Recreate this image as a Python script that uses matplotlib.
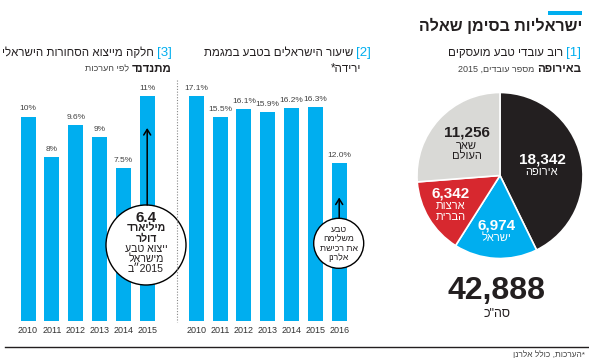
import re
import matplotlib
matplotlib.use('Agg')
import matplotlib.pyplot as plt
from matplotlib.patches import Ellipse, FancyArrowPatch
from matplotlib.lines import Line2D
import numpy as np

plt.rcParams['font.family'] = ['Liberation Sans Narrow', 'Liberation Sans', 'DejaVu Sans']

# data
pie_labels = [['אירופה'], ['ישראל'], ['ארצות', 'הברית'], ['שאר', 'העולם']]
pie_values = [18342, 6974, 6342, 11256]
pie_total = 42888
pie_colors = ['#231f20', '#00aeef', '#d7282f', '#d9d9d6']
pie_text_colors = ['white', 'white', 'white', '#231f20']

years_share = ['2010', '2011', '2012', '2013', '2014', '2015']
export_share = [10, 8, 9.6, 9, 7.5, 11]
export_labels = ['10%', '8%', '9.6%', '9%', '7.5%', '11%']

years_rate = ['2010', '2011', '2012', '2013', '2014', '2015', '2016']
israeli_rate = [17.1, 15.5, 16.1, 15.9, 16.2, 16.3, 12.0]
rate_labels = ['17.1%', '15.5%', '16.1%', '15.9%', '16.2%', '16.3%', '12.0%']

BLUE = '#00aeef'
DARK = '#231f20'
GREY = '#444444'

W, H = 589, 361
fig = plt.figure(figsize=(W / 100, H / 100), dpi=100)
fig.patch.set_facecolor('white')


def rtl(s):
    # logical hebrew -> visual order for left-to-right drawing
    toks = re.findall(r'\d[\d.,%]*|.', s)
    mirror = {'[': ']', ']': '[', '(': ')', ')': '('}
    return ''.join(mirror.get(t, t) for t in reversed(toks))


def T(x, y, s, **kw):
    return fig.text(x / W, 1 - y / H, s, **kw)


def rtl_line(xr, y, pieces, gap=3):
    r = fig.canvas.get_renderer()
    x = xr
    for s, kw in pieces:
        t = T(x, y, s, ha='right', va='center', **kw)
        x -= t.get_window_extent(r).width + gap


def px_axes(left, top, width, height):
    return fig.add_axes([left / W, 1 - (top + height) / H, width / W, height / H])


def bar_panel(ax, years, vals, labels, ymax):
    x = np.arange(len(years))
    ax.bar(x, vals, width=0.63, color=BLUE, edgecolor='none')
    for i, (v, lab) in enumerate(zip(vals, labels)):
        ax.annotate(lab, (i, v), xytext=(0, 4), textcoords='offset pixels',
                    ha='center', va='bottom', fontsize=6, color=GREY)
    ax.set_xlim(-0.5, len(years) - 0.5)
    ax.set_ylim(0, ymax)
    ax.set_xticks(x)
    ax.set_xticklabels(years)
    ax.tick_params(axis='x', length=0, pad=4, labelsize=6.5, labelcolor='#333333')
    ax.set_yticks([])
    for sp in ax.spines.values():
        sp.set_visible(False)
    ax.patch.set_alpha(0)


# Plot 3: share of exports
ax3 = px_axes(16.1, 320.5 - 244.8, 143.0, 244.8)
bar_panel(ax3, years_share, export_share, export_labels, 12)

# Plot 2: share of Israelis
ax2 = px_axes(184.3, 320.5 - 242.7, 166.8, 242.7)
bar_panel(ax2, years_rate, israeli_rate, rate_labels, 18.5)

# Plot 1: pie
axp = px_axes(417, 92.5, 166, 166)
wedges, _ = axp.pie(pie_values, colors=pie_colors, startangle=90, counterclock=False,
                    wedgeprops=dict(edgecolor='white', linewidth=1.2))
axp.set_xlim(-1, 1)
axp.set_ylim(-1, 1)
label_r = [0.52, 0.68, 0.69, 0.55]
for w, v, lines, tc, rr in zip(wedges, pie_values, pie_labels, pie_text_colors, label_r):
    th = np.deg2rad((w.theta1 + w.theta2) / 2)
    xy = (rr * np.cos(th), rr * np.sin(th))
    if len(lines) == 1:
        offs = [6, -6]
    else:
        offs = [11.5, -1.2, -11.5]
    axp.annotate(f'{v:,}', xy, xytext=(0, offs[0]), textcoords='offset pixels',
                 ha='center', va='center', fontsize=11, fontweight='bold', color=tc)
    for line, o in zip(lines, offs[1:]):
        axp.annotate(rtl(line), xy, xytext=(0, o), textcoords='offset pixels',
                     ha='center', va='center', fontsize=8, color=tc)

T(496.7, 291, f'{pie_total:,}', ha='center', va='center', fontsize=23,
  fontweight='bold', color=DARK)
T(496.7, 314, rtl('סה"כ'), ha='center', va='center', fontsize=9, color=DARK)

# headline
fig.add_artist(plt.Rectangle((548 / W, 1 - 15 / H), 34 / W, 4.3 / H,
                             transform=fig.transFigure, color=BLUE, lw=0))
T(582, 26, rtl('ישראליות בסימן שאלה'), ha='right', va='center', fontsize=11.5,
  fontweight='bold', color=DARK)

# panel titles
TS = 8.3
rtl_line(581, 53, [('[1]', dict(fontsize=9.5, color=BLUE)),
                   (rtl('רוב עובדי טבע מועסקים'), dict(fontsize=TS, color=DARK))])
rtl_line(581, 69, [(rtl('באירופה'), dict(fontsize=TS, fontweight='bold', color=DARK)),
                   (rtl('מספר עובדים, 2015'), dict(fontsize=6.5, color=GREY))])

rtl_line(371, 53, [('[2]', dict(fontsize=9.5, color=BLUE)),
                   (rtl('שיעור הישראלים בטבע במגמת'), dict(fontsize=TS, color=DARK))])
rtl_line(361, 69, [(rtl('ירידה*'), dict(fontsize=TS, color=DARK))])

rtl_line(172, 53, [('[3]', dict(fontsize=9.5, color=BLUE)),
                   (rtl('חלקה מייצוא הסחורות הישראלי'), dict(fontsize=TS, color=DARK))])
rtl_line(172, 69, [(rtl('מתנדנד'), dict(fontsize=TS, fontweight='bold', color=DARK)),
                   (rtl('לפי הערכות'), dict(fontsize=6.5, color=GREY))])

# annotation circles
fig.add_artist(Ellipse((146 / W, 1 - 245 / H), 80 / W, 80 / H, transform=fig.transFigure,
                       facecolor='white', edgecolor='black', lw=1, zorder=2))
fig.add_artist(Ellipse((338.7 / W, 1 - 243.3 / H), 50 / W, 50 / H, transform=fig.transFigure,
                       facecolor='white', edgecolor='black', lw=1, zorder=2))
fig.add_artist(Line2D([177 / W, 177 / W], [1 - 80 / H, 1 - 322 / H], transform=fig.transFigure,
                      color='#888888', lw=0.8, ls=(0, (1, 1.5)), zorder=2.5))

for x0, y0, y1 in [(147.2, 205, 128), (339.2, 218.3, 197.5)]:
    fig.add_artist(FancyArrowPatch(
        (x0 / W, 1 - y0 / H), (x0 / W, 1 - y1 / H), transform=fig.transFigure,
        arrowstyle='->,head_length=4,head_width=2.5', color='black', lw=1.1,
        shrinkA=0, shrinkB=0, zorder=2))

CS = 7.6
T(146, 218, '6.4', ha='center', va='center', fontsize=11, fontweight='bold', color=DARK, zorder=3)
T(146, 228.5, rtl('מיליארד'), ha='center', va='center', fontsize=CS, fontweight='bold', color=DARK, zorder=3)
T(146, 238.5, rtl('דולר'), ha='center', va='center', fontsize=CS, fontweight='bold', color=DARK, zorder=3)
T(146, 249, rtl('ייצוא טבע'), ha='center', va='center', fontsize=CS, color=DARK, zorder=3)
T(146, 259, rtl('מישראל'), ha='center', va='center', fontsize=CS, color=DARK, zorder=3)
T(146, 269.5, 'ב״2015', ha='center', va='center', fontsize=CS, color=DARK, zorder=3)

for yy, s in zip([230, 239.3, 248.3, 257.3], ['טבע', 'משלימה', 'את רכישת', 'אלרנן']):
    T(338.7, yy, rtl(s), ha='center', va='center', fontsize=6.3, color=DARK, zorder=3)

# footer
fig.add_artist(Line2D([5 / W, 1], [1 - 347 / H, 1 - 347 / H], transform=fig.transFigure,
                      color=DARK, lw=1))
T(585, 355, rtl('*הערכות, כולל אלרנן'), ha='right', va='center', fontsize=6, color=GREY)

fig.savefig('out.png', dpi=100)
plt.close()
print('Saved.')
